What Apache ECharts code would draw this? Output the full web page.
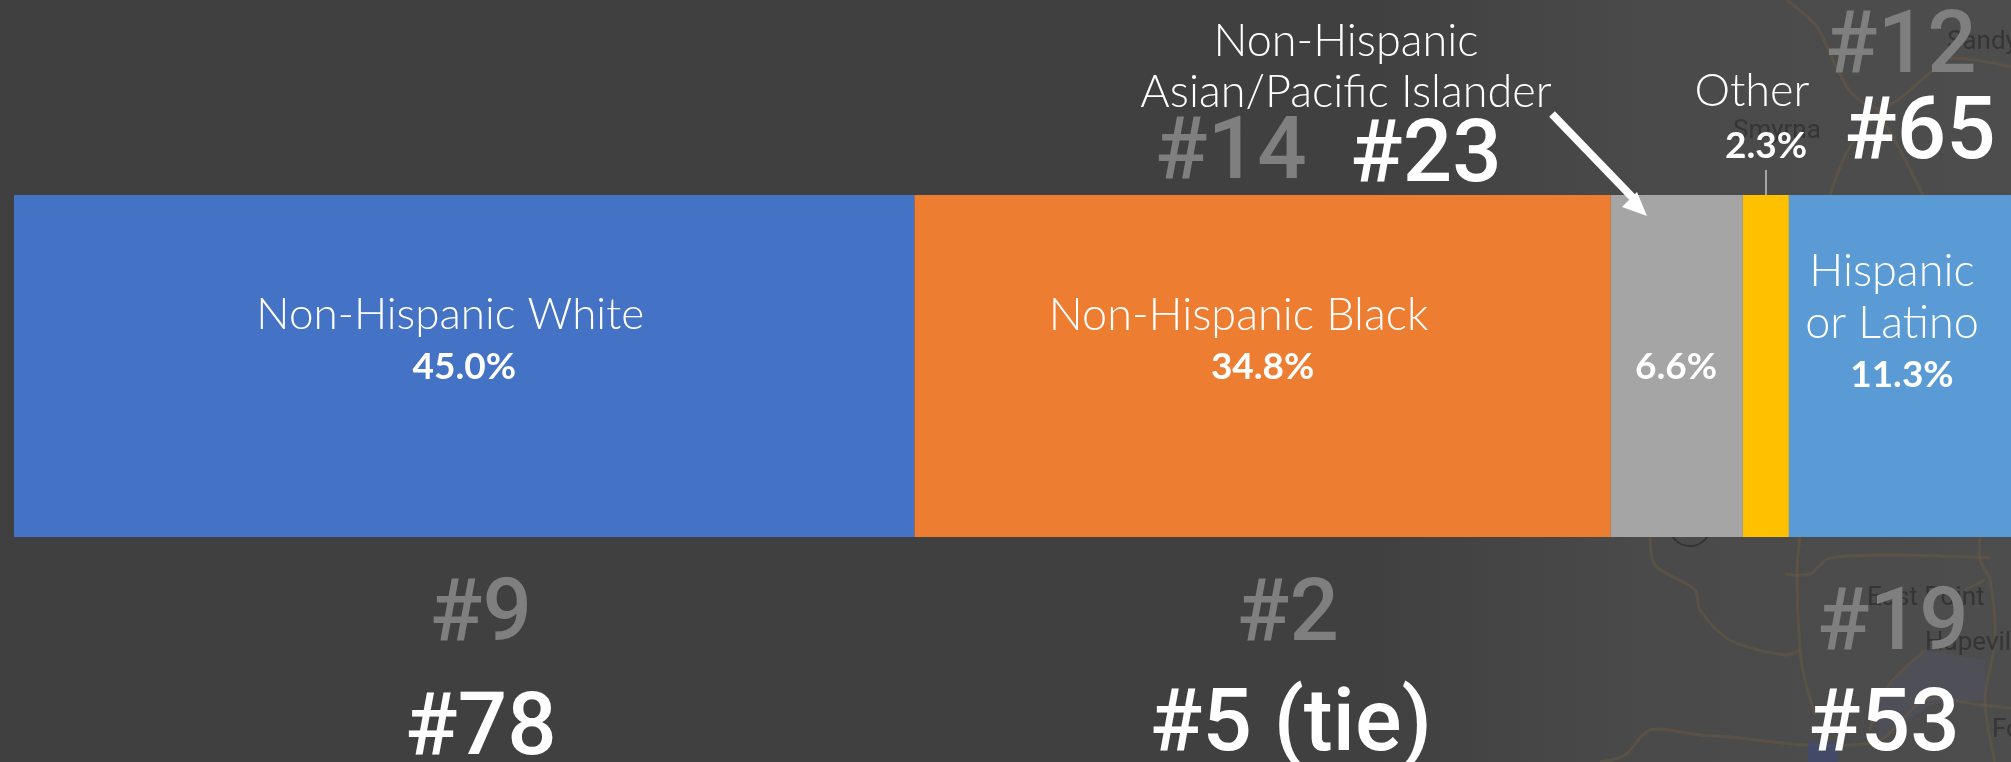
<!DOCTYPE html>
<html><head><meta charset="utf-8">
<style>html,body{margin:0;padding:0;background:#404040;overflow:hidden}#c{width:2011px;height:762px}</style>
<script src="https://cdn.jsdelivr.net/npm/echarts@6/dist/echarts.min.js"></script>
</head><body><div id="c"></div>
<script>
const groups = ['Non-Hispanic White','Non-Hispanic Black','Non-Hispanic Asian/Pacific Islander','Other','Hispanic or Latino'];
const shares = [45.0,34.8,6.6,2.3,11.3];
const colours = ['#4472c4','#ed7d31','#a5a5a5','#ffc000','#5b9bd5'];
const barLabels = ['Non-Hispanic White','Non-Hispanic Black','','','Hispanic\nor Latino'];
const labelYOffsets = [-25,-25,0,0,-43];
const namePads = [28,48,0,0,20];
const topRanks = [{t:'#14',x:1231,y:156,c:'#7f7f7f'},{t:'#23',x:1426,y:159,c:'#fff'},{t:'#12',x:1901,y:50,c:'#7f7f7f'},{t:'#65',x:1920,y:136,c:'#fff'}];
const bottomRanks = [{t:'#9',x:481,y:618,c:'#7f7f7f'},{t:'#78',x:481,y:732,c:'#fff'},{t:'#2',x:1288,y:618,c:'#7f7f7f'},{t:'#5 (tie)',x:1291,y:728,c:'#fff'},{t:'#19',x:1893,y:627,c:'#7f7f7f'},{t:'#53',x:1884,y:728,c:'#fff'}];
const mapNames = [{t:'Sandy',x:1947,y:42},{t:'Smyrna',x:1733,y:131},{t:'East Point',x:1867,y:598},{t:'Hapeville',x:1925,y:643},{t:'Fo',x:1992,y:730}];
const roads = [
 [[1787,0],[1817,27],[1833,60],[1853,95],[1883,108],[1930,73],[1950,58],[2011,67]],
 [[1880,115],[1900,150],[1923,195]],
 [[1830,195],[1848,150],[1880,110]],
 [[1800,537],[1797,570],[1800,650],[1805,680],[1815,715]],
 [[1785,574],[1810,574],[1830,558],[1900,555],[1990,558]],
 [[1650,537],[1655,565],[1695,590],[1700,610],[1730,640],[1785,655],[1800,650]],
 [[1980,537],[1980,560],[1990,580],[1995,640],[1985,700],[1995,762]],
 [[1600,762],[1625,755],[1650,730],[1700,735],[1730,737],[1810,745],[1880,740],[1925,700],[1980,705],[2011,708]],
 [[1925,650],[1885,690],[1870,730]],
 [[1965,590],[1985,580]]
];
const chart = echarts.init(document.getElementById('c'));
const rankText = r => ({type:'text',style:{text:r.t,x:r.x,y:r.y,align:'center',verticalAlign:'middle',fill:r.c,font:'500 87px Roboto'},z:20});
const plain = (t,x,y,font) => ({type:'text',style:{text:t,x,y,align:'center',verticalAlign:'middle',fill:'#fff',font},z:20});
const nameFont = '300 45px Lato', pctFont = '700 37px Lato';
chart.setOption({
  animation:false,
  backgroundColor:{type:'linear',x:0,y:0,x2:1,y2:0,colorStops:[{offset:0,color:'#404040'},{offset:.68,color:'#404040'},{offset:.82,color:'#4a4a4a'},{offset:1,color:'#4d4d4d'}]},
  grid:{left:14,top:195,width:2001,height:342,outerBoundsMode:'none'},
  xAxis:{type:'value',min:0,max:100,show:false},
  yAxis:{type:'category',data:['Share'],show:false},
  series:groups.map((g,i)=>({
    name:g,type:'bar',stack:'all',barWidth:'100%',data:[shares[i]],
    itemStyle:{color:colours[i]},
    label:{show:i!==3&&i!==2,position:'inside',offset:[0,labelYOffsets[i]],
      formatter:()=>barLabels[i].split('\n').map(s=>`{n|${s}}`).join('\n')+`\n{v|${shares[i].toFixed(1)}%}`,
      rich:{n:{fontFamily:'Lato',fontWeight:300,fontSize:i===0?44:45,color:'#fff',lineHeight:52,align:'center',padding:[0,namePads[i],0,0]},
            v:{fontFamily:'Lato',fontWeight:700,fontSize:37,color:'#fff',lineHeight:52,align:'center'}}}
  })),
  graphic:[
    {type:'polygon',shape:{points:[[1875,700],[1925,650],[1985,660],[1985,700],[1930,705],[1880,740]]},style:{fill:'#4f4f57'},z:1},
    {type:'circle',shape:{cx:1690,cy:525,r:21},style:{fill:null,stroke:'#333',lineWidth:2},z:1},
    ...roads.map(p=>({type:'polyline',shape:{points:p,smooth:.3},style:{stroke:'#6b5a44',lineWidth:3,fill:null,opacity:.5},z:1})),
    {type:'rect',shape:{x:1808,y:742,width:30,height:20},style:{fill:'#3f4a70',opacity:.75},z:1},
    ...mapNames.map(m=>({type:'text',style:{text:m.t,x:m.x,y:m.y,align:'left',verticalAlign:'middle',fill:'#2f2f2f',opacity:.8,font:'26px Roboto'},z:1})),
    ...topRanks.map(rankText),...bottomRanks.map(rankText),
    plain('Non-Hispanic',1346,41,nameFont),
    plain('Asian/Pacific Islander',1346,92,nameFont),
    plain('6.6%',1676,367,pctFont),
    plain('Other',1752,91,nameFont),
    plain('2.3%',1766,146,pctFont),
    {type:'line',shape:{x1:1766,y1:170,x2:1766,y2:195},style:{stroke:'#a5a5a5',lineWidth:2},z:20},
    {type:'line',shape:{x1:1552,y1:114,x2:1635,y2:200},style:{stroke:'#fff',lineWidth:8},z:20},
    {type:'polygon',shape:{points:[[1647,216],[1622,207],[1637,192]]},style:{fill:'#fff'},z:20}
  ]
});
</script></body></html>
